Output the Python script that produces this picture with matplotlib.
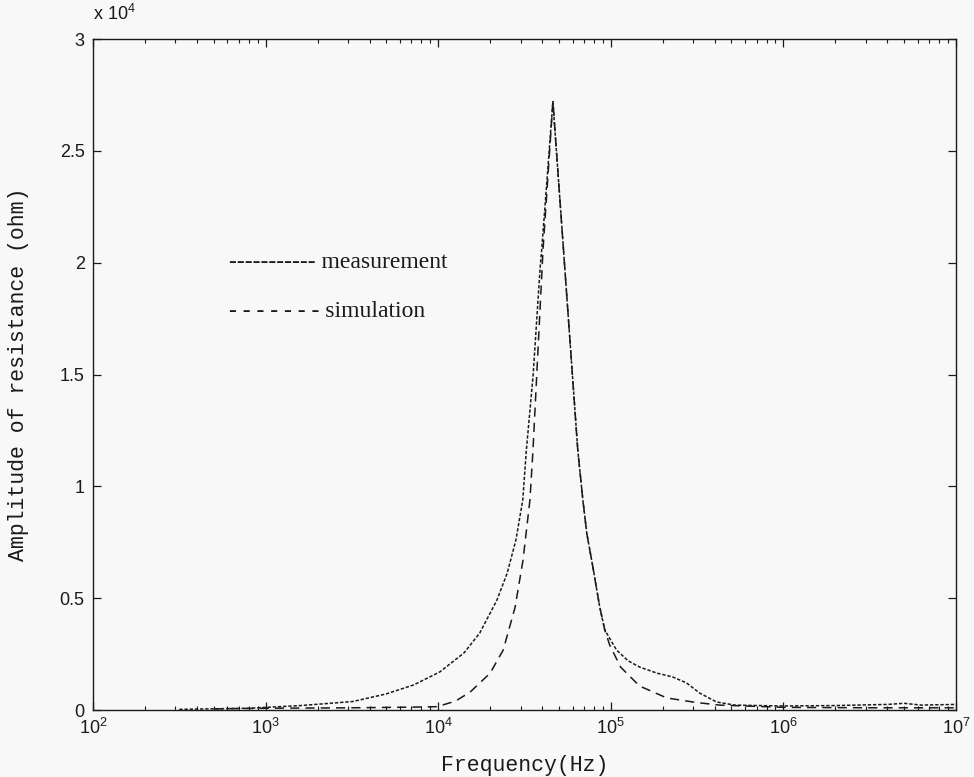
import math
import matplotlib
matplotlib.use("Agg")
import matplotlib.pyplot as plt
from matplotlib.ticker import FixedLocator, LogLocator, NullFormatter

# Measured impedance amplitude (ohm) versus frequency (Hz)
meas_freq = [316, 794, 1.6e3, 3.2e3, 5.0e3, 7.2e3, 1.02e4, 1.41e4, 1.74e4, 2.19e4,
             2.51e4, 2.82e4, 3.09e4, 3.24e4, 3.55e4, 3.89e4, 3.98e4, 4.62e4, 5.42e4,
             6.44e4, 6.89e4, 7.26e4, 7.87e4, 8.63e4, 9.23e4, 1.08e5, 1.26e5, 1.47e5,
             1.85e5, 2.28e5, 2.75e5, 3.27e5, 4.10e5, 5.21e5, 1.0e6, 2.0e6, 4.0e6,
             5.0e6, 6.3e6, 1.0e7]
meas_amp = [30, 80, 200, 380, 720, 1120, 1700, 2550, 3440, 4920,
            6120, 7600, 9390, 11600, 15000, 19700, 20600, 27200, 19700,
            11600, 9390, 7900, 6400, 4600, 3580, 2680, 2200, 1920,
            1650, 1480, 1210, 760, 360, 220, 180, 200, 250,
            300, 220, 250]

# Simulated impedance amplitude (ohm)
sim_freq = [501, 1.0e3, 3.2e3, 7.16e3, 9.86e3, 1.26e4, 1.53e4, 2.0e4, 2.38e4, 2.79e4,
            3.10e4, 3.40e4, 3.54e4, 4.05e4, 4.62e4, 5.42e4, 6.44e4, 6.89e4, 7.26e4,
            7.87e4, 8.63e4, 9.23e4, 9.86e4, 1.14e5, 1.47e5, 2.11e5, 3.10e5, 4.27e5,
            1.0e6, 3.16e6, 1.0e7]
sim_amp = [50, 80, 100, 130, 150, 400, 800, 1650, 2680, 4600,
           6700, 9390, 11600, 20600, 27200, 19700, 11600, 9390, 7900,
           6400, 4600, 3580, 2900, 1920, 1070, 540, 340, 220,
           120, 100, 100]

y_ticks = [0, 5000, 10000, 15000, 20000, 25000, 30000]
y_tick_labels = ["0", "0.5", "1", "1.5", "2", "2.5", "3"]
x_decades = [1e2, 1e3, 1e4, 1e5, 1e6, 1e7]

plt.rcParams["mathtext.fontset"] = "custom"
plt.rcParams["mathtext.rm"] = "Liberation Sans"
plt.rcParams["mathtext.it"] = "Liberation Sans"
plt.rcParams["mathtext.default"] = "regular"

fig = plt.figure(figsize=(9.74, 7.77), dpi=100)
fig.patch.set_facecolor("#f8f8f8")
ax = fig.add_axes([0.0955, 0.0862, 0.886, 0.8636])
ax.set_facecolor("#f8f8f8")

ink = "#1a1a1a"
ax.plot(meas_freq, meas_amp, color=ink, lw=1.1, linestyle=(0, (2.2, 1.2)))
ax.plot(sim_freq, sim_amp, color=ink, lw=1.1, linestyle=(0, (6, 4)))

ax.set_xscale("log")
ax.set_xlim(1e2, 1e7)
ax.set_ylim(0, 30000)

ax.xaxis.set_major_locator(FixedLocator(x_decades))
ax.xaxis.set_minor_locator(LogLocator(base=10, subs=range(2, 10), numticks=20))
ax.xaxis.set_minor_formatter(NullFormatter())
ax.set_xticks(x_decades)
ax.set_xticklabels([r"$10^{%d}$" % int(round(math.log10(v))) for v in x_decades])
ax.set_yticks(y_ticks)
ax.set_yticklabels(y_tick_labels)

ax.tick_params(which="both", direction="in", top=True, right=True,
               colors=ink, labelcolor=ink)
ax.tick_params(which="major", length=6, width=0.9, labelsize=13, pad=6)
ax.tick_params(which="minor", length=3, width=0.8)
for lab in ax.get_xticklabels() + ax.get_yticklabels():
    lab.set_fontfamily("Liberation Sans")
for s in ax.spines.values():
    s.set_color(ink)
    s.set_linewidth(1.0)

ax.text(0.0, 1.022, r"x 10$^{4}$", transform=ax.transAxes, ha="left", va="bottom",
        fontsize=13, family="Liberation Sans", color=ink)

ax.set_xlabel("Frequency(Hz)", fontsize=15.5, family="Liberation Mono", color=ink, labelpad=12)
ax.set_ylabel("Amplitude of resistance (ohm)", fontsize=15.5, family="Liberation Mono",
              color=ink, labelpad=22)

# Key drawn as typed text next to the curves
ax.text(610, 20000, "----------- measurement", fontsize=17, family="Liberation Serif",
        color=ink, va="center", ha="left")
ax.text(610, 17800, "- - - - - - - simulation", fontsize=17, family="Liberation Serif",
        color=ink, va="center", ha="left")

fig.savefig("out.png", dpi=100, facecolor=fig.get_facecolor())
